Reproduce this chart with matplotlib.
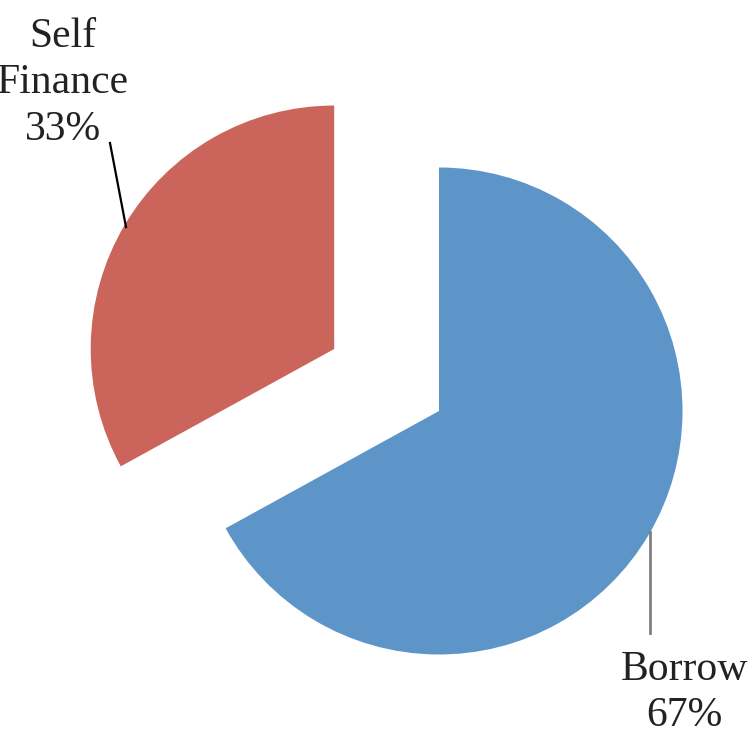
import matplotlib.pyplot as plt

labels = ["Borrow", "Self\nFinance"]
shares = [67, 33]
colors = ["#5E95C9", "#CB655B"]

W, H = 751, 733
fig = plt.figure(figsize=(W / 100, H / 100), dpi=100)
ax = fig.add_axes([0, 0, 1, 1])

# pie centre and radius in pixel units (y measured from the bottom)
cx, cy, r = 439, H - 411, 243.5
ax.pie(shares, colors=colors, startangle=90, counterclock=False,
       explode=[0, 0.5 * r], radius=r, center=(cx, cy), frame=True,
       wedgeprops=dict(linewidth=0))

ax.set_xlim(0, W)
ax.set_ylim(0, H)
ax.set_aspect("equal")
ax.axis("off")

font = dict(family="Liberation Serif", fontsize=30, ha="center", va="center",
            linespacing=1.27, color="#222222")

# Self Finance label and leader
ax.text(63, H - 83, f"{labels[1]}\n{shares[1]}%", **font)
ax.plot([110, 126], [H - 143, H - 227], color="black", lw=1.6)

# Borrow label and leader
ax.text(684, H - 693, f"{labels[0]}\n{shares[0]}%", **font)
ax.plot([650, 650], [H - 532, H - 633], color="#7f7f7f", lw=2)

fig.savefig("out.png", dpi=100)
